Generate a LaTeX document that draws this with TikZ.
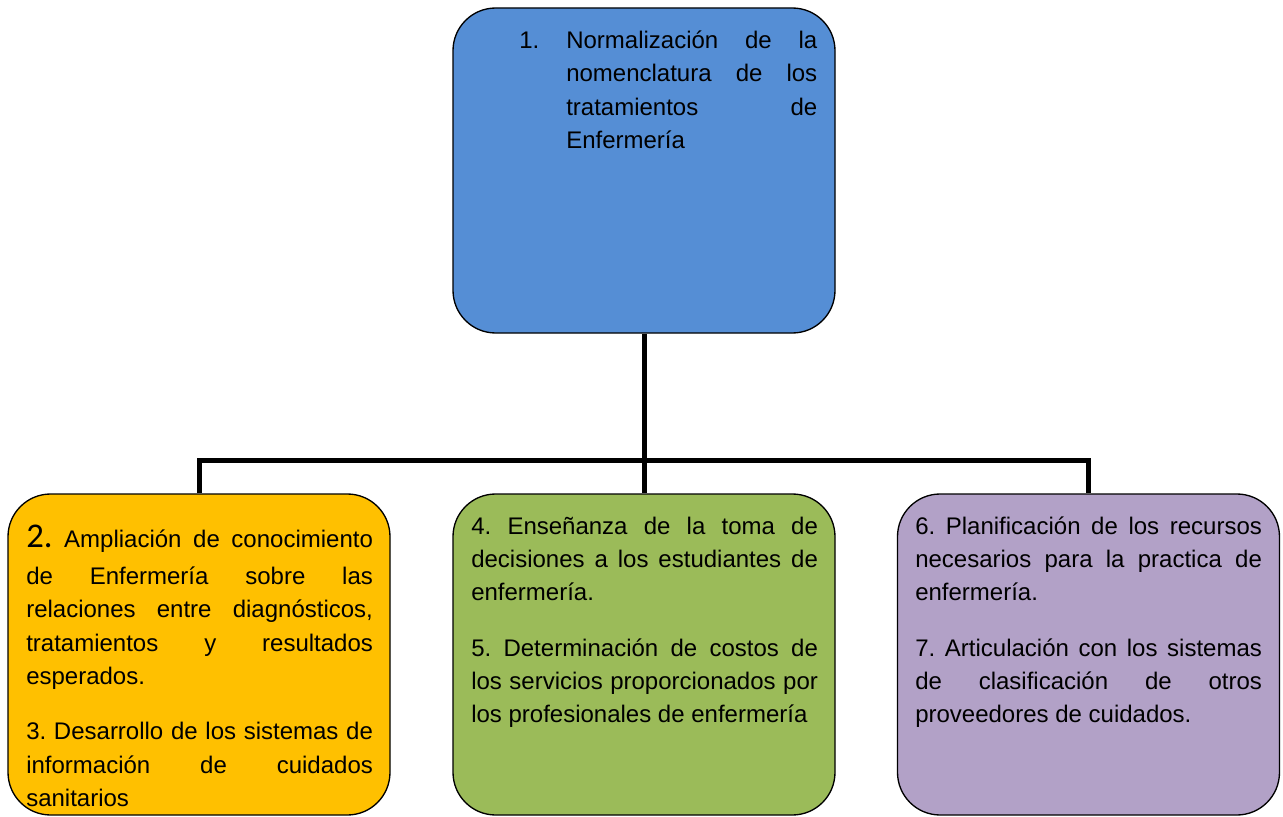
\documentclass[tikz,border=0pt]{standalone}
\usepackage{fontspec}
\setmainfont{Liberation Sans}
\newfontfamily\numfont{Carlito}
\usetikzlibrary{positioning}
\frenchspacing
\definecolor{boxblue}{RGB}{85,142,213}
\definecolor{boxorange}{RGB}{255,192,0}
\definecolor{boxgreen}{RGB}{155,187,89}
\definecolor{boxpurple}{RGB}{178,161,199}
\tikzset{
    mybox/.style = {rectangle, rounded corners=32pt, draw=black, line width=1pt, inner sep=0pt, minimum width=286.5pt, minimum height=240.75pt},
    myboxb/.style = {mybox, fill=boxblue, minimum height=243.75pt},
    myboxo/.style = {mybox, fill=boxorange},
    myboxg/.style = {mybox, fill=boxgreen},
    myboxp/.style = {mybox, fill=boxpurple},
    mytext/.style = {anchor=north west, inner sep=0pt, text width=260pt, align=justify, text=black,
                     font=\fontsize{18}{25}\selectfont},
    edgen/.style = {-, line width=3.75pt, black},
}

\begin{document}
\begin{tikzpicture}[x=0.75pt, y=-0.75pt]
  \useasboundingbox (0,0) rectangle (1283,817);
  % boxes
  \node[myboxb] (top) at (644,170.5) {};
  \node[myboxo] (left) at (199,654.5) {};
  \node[myboxg] (mid) at (644,654.5) {};
  \node[myboxp] (right) at (1088.5,654.5) {};
  % connectors
  \coordinate (hub) at (644,460);
  \draw[edgen] (top.south) -- (hub);
  \draw[edgen] (left.north) |- (hub) -| (right.north);
  \draw[edgen] (hub) -- (mid.north);
  % texts
  \node[mytext, text width=223.5pt] (toptext) at (519,25) {\hangindent=35.25pt\hangafter=1\noindent\strut\makebox[35.25pt][l]{1.}Normalización de la\linebreak nomenclatura de los\linebreak tratamientos de\linebreak Enfermería\par};
  \node[mytext] (lefttext) at (26,524) {\noindent\strut{\numfont\fontsize{26}{25}\selectfont 2.} Ampliación de conocimiento\rule[-9.2pt]{0pt}{0pt}\linebreak\strut de Enfermería sobre las\linebreak relaciones entre diagnósticos,\linebreak tratamientos y resultados\linebreak esperados.\par\vspace{16.5pt}\noindent\strut 3. Desarrollo de los sistemas de\linebreak información de cuidados\linebreak sanitarios};
  \node[mytext] (midtext) at (471,510.5) {\noindent\strut 4. Enseñanza de la toma de\linebreak decisiones a los estudiantes de\linebreak enfermería.\par\vspace{16.5pt}\noindent\strut 5. Determinación de costos de\linebreak los servicios proporcionados por\linebreak los profesionales de enfermería};
  \node[mytext] (righttext) at (915,510.5) {\noindent\strut 6. Planificación de los recursos\linebreak necesarios para la practica de\linebreak enfermería.\par\vspace{16.5pt}\noindent\strut 7. Articulación con los sistemas\linebreak de clasificación de otros\linebreak proveedores de cuidados.};
\end{tikzpicture}
\end{document}
